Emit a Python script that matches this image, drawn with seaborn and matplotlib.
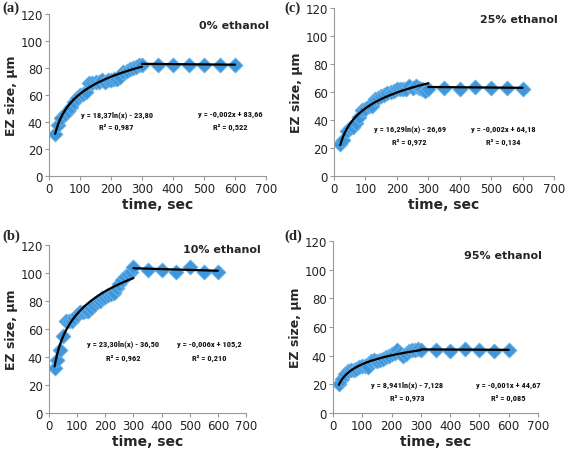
import matplotlib
matplotlib.use('Agg')
import matplotlib.pyplot as plt
from matplotlib import font_manager
import seaborn as sns
import numpy as np
import pandas as pd

# ---------------- data ----------------
time_early = [20, 30, 40, 50, 60, 70, 80, 90, 100, 110, 120, 130, 140, 150, 160,
              170, 180, 190, 200, 210, 220, 230, 240, 250, 260, 270, 280, 290, 300]
time_late = [350, 400, 450, 500, 550, 600]

ez_a_early = [31, 38, 43, 46, 48, 51, 55, 58, 60, 61, 62, 69, 69, 70, 70,
              71, 70, 71, 71, 72, 72, 73, 77, 78, 79, 80, 81, 82, 82]
ez_a_late = [82.5, 82, 82, 82, 82, 82]

ez_b_early = [32, 38, 45, 55, 66, 66, 66, 68, 70, 72, 72, 73, 73, 75, 77,
              79, 80, 82, 83, 84, 85, 86, 89, 92, 95, 97, 99, 101, 104]
ez_b_late = [102, 102, 100.5, 104, 100.5, 101]

ez_c_early = [23, 26, 32, 34, 35, 38, 42, 47, 48, 50, 50, 55, 56, 57, 58,
              59, 60, 61, 62, 62, 62, 62, 64, 63, 64, 63, 62, 61, 62]
ez_c_late = [63, 62, 63.5, 63, 63, 62]

ez_d_early = [20, 24, 27, 29, 30, 30, 31, 32, 33, 33, 32, 36, 37, 36, 37,
              38, 39, 40, 41, 42, 44, 42, 40, 41, 43, 44, 44, 45, 44]
ez_d_late = [44, 43.5, 44.5, 44, 43.5, 44]

# trendline coefficients (as printed in the chart)
log_fit = {'a': [18.37, -23.80], 'b': [23.30, -36.50], 'c': [16.29, -26.69], 'd': [8.941, -7.128]}
lin_fit = {'a': [-0.002, 83.66], 'b': [-0.006, 105.2], 'c': [-0.002, 64.18], 'd': [-0.001, 44.67]}

titles = {'a': '0% ethanol', 'b': '10% ethanol', 'c': '25% ethanol', 'd': '95% ethanol'}
eq_log = {'a': ('y = 18,37ln(x) - 23,80', 'R² = 0,987'),
          'b': ('y = 23,30ln(x) - 36,50', 'R² = 0,962'),
          'c': ('y = 16,29ln(x) - 26,69', 'R² = 0,972'),
          'd': ('y = 8,941ln(x) - 7,128', 'R² = 0,973')}
eq_lin = {'a': ('y = -0,002x + 83,66', 'R² = 0,522'),
          'b': ('y = -0,006x + 105,2', 'R² = 0,210'),
          'c': ('y = -0,002x + 64,18', 'R² = 0,134'),
          'd': ('y = -0,001x + 44,67', 'R² = 0,085')}

early = {'a': ez_a_early, 'b': ez_b_early, 'c': ez_c_early, 'd': ez_d_early}
late = {'a': ez_a_late, 'b': ez_b_late, 'c': ez_c_late, 'd': ez_d_late}

# ---------------- layout ----------------
W, H = 567, 456
sns.set_style('white')
avail = {f.name for f in font_manager.fontManager.ttflist}
narrow_candidates = ['Liberation Sans Narrow', 'DejaVu Sans Condensed', 'Roboto Condensed',
                     'Open Sans Condensed', 'Noto Sans Condensed']
narrow_list = [f for f in narrow_candidates if f in avail] + ['DejaVu Sans']
plt.rcParams['font.family'] = ['DejaVu Sans']

fig = plt.figure(figsize=(W / 100, H / 100), dpi=100)

# pixel boxes: left, right, top(120), bottom(0)
boxes = {'a': (49, 266, 15, 177), 'c': (334, 554, 9, 177),
         'b': (49, 246, 246, 414), 'd': (333, 538, 242, 414)}
# text positions (data coords)
eq_pos = {'a': ((218, 46, 37), (585, 46, 37)),
          'c': ((241, 34, 25), (539, 34, 25)),
          'b': ((263, 50, 40), (569, 50, 40)),
          'd': ((252, 20, 11), (600, 20, 11))}
title_pos = {'a': (596, 112), 'c': (587, 112), 'b': (613, 117), 'd': (581, 110)}
label_pos = {'a': (2, 8), 'c': (284, 8), 'b': (2, 236), 'd': (284, 236)}

pt_color = '#4096d8'
edge_color = '#6cb6ec'

for key in ['a', 'b', 'c', 'd']:
    l, r, t, b = boxes[key]
    ax = fig.add_axes([l / W, 1 - b / H, (r - l) / W, (b - t) / H])
    df = pd.DataFrame({'time': time_early + time_late, 'ez': early[key] + late[key]})
    sns.scatterplot(data=df, x='time', y='ez', ax=ax, marker='D', s=58,
                    color=pt_color, edgecolor=edge_color, linewidth=0.6, zorder=2)
    # logarithmic trendline (0-300 s)
    xl = np.linspace(time_early[0], time_early[-1], 200)
    yl = log_fit[key][0] * np.log(xl) + log_fit[key][1]
    sns.lineplot(x=xl, y=yl, ax=ax, color='black', linewidth=1.6, zorder=3)
    # linear trendline (300-600 s)
    xn = np.array([time_early[-1], time_late[-1]])
    yn = lin_fit[key][0] * xn + lin_fit[key][1]
    sns.lineplot(x=xn, y=yn, ax=ax, color='black', linewidth=1.6, zorder=3)

    ax.set_xlim(0, 700)
    ax.set_ylim(0, 120)
    ax.set_xticks(range(0, 701, 100))
    ax.set_yticks(range(0, 121, 20))
    for s in ['top', 'right']:
        ax.spines[s].set_visible(False)
    for s in ['left', 'bottom']:
        ax.spines[s].set_color('#999999')
        ax.spines[s].set_linewidth(0.8)
    ax.tick_params(axis='both', direction='out', length=3, width=0.8, color='#999999',
                   labelsize=8.5, labelcolor='#222222', pad=1.5, left=True, bottom=True)
    ax.set_xlabel('time, sec', fontsize=10, fontweight='bold', labelpad=1)
    ax.set_ylabel('EZ size, µm', fontsize=9, fontweight='bold', labelpad=2)

    (x1, y1a, y1b), (x2, y2a, y2b) = eq_pos[key]
    eqkw = dict(fontsize=6.0, ha='center', va='center', family=narrow_list,
                fontweight='bold', color='#111111')
    ax.text(x1, y1a, eq_log[key][0], **eqkw)
    ax.text(x1, y1b, eq_log[key][1], **eqkw)
    ax.text(x2, y2a, eq_lin[key][0], **eqkw)
    ax.text(x2, y2b, eq_lin[key][1], **eqkw)
    ax.text(*title_pos[key], titles[key], fontsize=8, fontweight='bold', ha='center', va='center')

    lx, ly = label_pos[key]
    fig.text(lx / W, 1 - ly / H, f'({key})', fontsize=10.5, fontweight='bold',
             family=['Liberation Serif', 'DejaVu Serif'], ha='left', va='center')

fig.savefig('out.png', dpi=100)
